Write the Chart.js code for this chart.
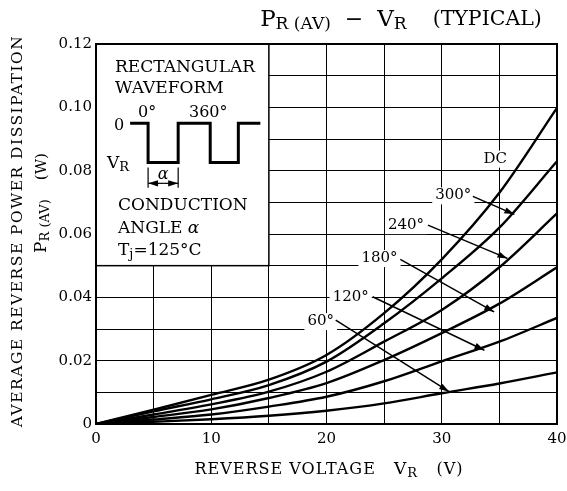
<!DOCTYPE html>
<html><head><meta charset="utf-8">
<script src="https://cdn.jsdelivr.net/npm/chart.js@4/dist/chart.umd.min.js"></script>
<style>html,body{margin:0;padding:0;background:#fff}#wrap{width:567px;height:491px;position:relative}</style>
</head><body><div id="wrap"><canvas id="c"></canvas></div>
<script>
// ---- data ----
const voltages = [0, 5, 10, 15, 20, 25, 30, 35, 40];
const seriesNames = ['DC', '300°', '240°', '180°', '120°', '60°'];
const pDC  = [0, 0.0045, 0.0092, 0.0140, 0.0218, 0.0350, 0.0520, 0.0730, 0.0998];
const p300 = [0, 0.0040, 0.0078, 0.0123, 0.0197, 0.0318, 0.0460, 0.0620, 0.0830];
const p240 = [0, 0.0030, 0.0062, 0.0102, 0.0165, 0.0260, 0.0360, 0.0495, 0.0665];
const p180 = [0, 0.0022, 0.0046, 0.0082, 0.0129, 0.0202, 0.0287, 0.0380, 0.0495];
const p120 = [0, 0.0014, 0.0030, 0.0055, 0.0086, 0.0135, 0.0198, 0.0260, 0.0335];
const p60  = [0, 0.0007, 0.0015, 0.0026, 0.0042, 0.0065, 0.0097, 0.0128, 0.0163];
const xTickLabels = [0, 10, 20, 30, 40];
const yTickLabels = ['0', '0.02', '0.04', '0.06', '0.08', '0.10', '0.12'];

const FONT = '"DejaVu Serif", "Liberation Serif", serif';
const allSeries = [pDC, p300, p240, p180, p120, p60];

// curve label annotations (data units): label center, arrow start, arrow end
const curveLabels = [
  { text: 'DC',   at: [34.65, 0.0838] },
  { text: '300°', at: [31.0, 0.0722], from: [32.7, 0.0719], to: [36.3, 0.0662] },
  { text: '240°', at: [26.9, 0.0628], from: [28.8, 0.0628], to: [35.7, 0.0523] },
  { text: '180°', at: [24.6, 0.0524], from: [26.4, 0.0520], to: [34.55, 0.0354] },
  { text: '120°', at: [22.1, 0.0401], from: [24.0, 0.0402], to: [33.7, 0.0233] },
  { text: '60°',  at: [19.5, 0.0325], from: [20.8, 0.0328], to: [30.64, 0.0102] }
];

function drawParts(ctx, x, y, parts, align) {
  // parts: [text, size, dy]
  let w = 0;
  parts.forEach(p => { ctx.font = p[1] + 'px ' + FONT; w += ctx.measureText(p[0]).width; });
  let cx = align === 'center' ? x - w / 2 : (align === 'right' ? x - w : x);
  ctx.textAlign = 'left';
  parts.forEach(p => {
    ctx.font = p[1] + 'px ' + FONT;
    ctx.fillText(p[0], cx, y + (p[2] || 0));
    cx += ctx.measureText(p[0]).width;
  });
}

function arrow(ctx, x1, y1, x2, y2) {
  ctx.beginPath(); ctx.moveTo(x1, y1); ctx.lineTo(x2, y2); ctx.stroke();
  const a = Math.atan2(y2 - y1, x2 - x1), L = 10, W = 3.2;
  ctx.beginPath();
  ctx.moveTo(x2, y2);
  ctx.lineTo(x2 - L * Math.cos(a) + W * Math.sin(a), y2 - L * Math.sin(a) - W * Math.cos(a));
  ctx.lineTo(x2 - L * Math.cos(a) - W * Math.sin(a), y2 - L * Math.sin(a) + W * Math.cos(a));
  ctx.closePath(); ctx.fill();
}

const decor = {
  id: 'decor',
  beforeDatasetsDraw(chart) {
    const ctx = chart.ctx, xs = chart.scales.x, ys = chart.scales.y;
    const X = v => xs.getPixelForValue(v), Y = v => ys.getPixelForValue(v);
    ctx.save();
    // inset box
    ctx.fillStyle = '#fff';
    ctx.fillRect(X(0), Y(0.12), X(15) - X(0), Y(0.05) - Y(0.12));
    ctx.strokeStyle = '#000'; ctx.lineWidth = 1.5;
    ctx.strokeRect(X(0), Y(0.12), X(15) - X(0), Y(0.05) - Y(0.12));
    ctx.fillStyle = '#000';
    ctx.textBaseline = 'middle';
    drawParts(ctx, X(1.65), Y(0.1126), [['RECTANGULAR', 17]], 'left');
    drawParts(ctx, X(1.65), Y(0.1060), [['WAVEFORM', 17]], 'left');
    drawParts(ctx, X(4.43), Y(0.0982), [['0°', 16]], 'center');
    drawParts(ctx, X(9.74), Y(0.0982), [['360°', 16]], 'center');
    drawParts(ctx, X(2.0), Y(0.0942), [['0', 16]], 'center');
    drawParts(ctx, X(0.95), Y(0.0823), [['V', 17], ['R', 13, 4]], 'left');
    // waveform
    const wx = [2.96, 4.52, 4.52, 7.13, 7.13, 9.91, 9.91, 12.35, 12.35, 14.26];
    const wy = [0.095, 0.095, 0.0826, 0.0826, 0.095, 0.095, 0.0826, 0.0826, 0.095, 0.095];
    ctx.lineWidth = 3; ctx.lineJoin = 'miter';
    ctx.beginPath();
    wx.forEach((v, i) => i ? ctx.lineTo(X(v), Y(wy[i])) : ctx.moveTo(X(v), Y(wy[i])));
    ctx.stroke();
    // alpha dimension
    ctx.lineWidth = 1.2;
    ctx.beginPath();
    ctx.moveTo(X(4.52), Y(0.0810)); ctx.lineTo(X(4.52), Y(0.0746));
    ctx.moveTo(X(7.13), Y(0.0810)); ctx.lineTo(X(7.13), Y(0.0746));
    ctx.stroke();
    const ay = Y(0.0760);
    arrow(ctx, (X(4.52) + X(7.13)) / 2, ay, X(7.13), ay);
    arrow(ctx, (X(4.52) + X(7.13)) / 2, ay, X(4.52), ay);
    ctx.font = 'italic 16px ' + FONT; ctx.textAlign = 'center';
    ctx.fillText('α', X(5.83), Y(0.0787));
    drawParts(ctx, X(1.91), Y(0.0691), [['CONDUCTION', 17]], 'left');
    drawParts(ctx, X(1.91), Y(0.0618), [['ANGLE ', 17]], 'left');
    ctx.font = '17px ' + FONT;
    const aw = ctx.measureText('ANGLE ').width;
    ctx.font = 'italic 17px ' + FONT; ctx.textAlign = 'left';
    ctx.fillText('α', X(1.91) + aw, Y(0.0618));
    drawParts(ctx, X(1.91), Y(0.0549), [['T', 17], ['j', 13, 4], ['=125°C', 17]], 'left');
    ctx.restore();
  },
  afterDatasetsDraw(chart) {
    const ctx = chart.ctx, xs = chart.scales.x, ys = chart.scales.y, ca = chart.chartArea;
    const X = v => xs.getPixelForValue(v), Y = v => ys.getPixelForValue(v);
    ctx.save();
    // frame
    ctx.strokeStyle = '#000'; ctx.lineWidth = 2;
    ctx.strokeRect(ca.left, ca.top, ca.right - ca.left, ca.bottom - ca.top);
    // curve labels
    ctx.textBaseline = 'middle';
    curveLabels.forEach(l => {
      ctx.font = '15px ' + FONT;
      const w = ctx.measureText(l.text).width;
      const cx = X(l.at[0]), cy = Y(l.at[1]);
      ctx.fillStyle = '#fff';
      ctx.fillRect(cx - w / 2 - 3, cy - 8, w + 6, 17);
      ctx.fillStyle = '#000';
      ctx.textAlign = 'center';
      ctx.fillText(l.text, cx, cy);
      if (l.from) {
        ctx.lineWidth = 1.5; ctx.strokeStyle = '#000';
        arrow(ctx, X(l.from[0]), Y(l.from[1]), X(l.to[0]), Y(l.to[1]));
      }
    });
    ctx.restore();
  },
  afterDraw(chart) {
    const ctx = chart.ctx;
    ctx.save();
    ctx.fillStyle = '#000';
    ctx.textBaseline = 'middle';
    // title
    drawParts(ctx, 401, 20, [['P', 23], ['R (AV)', 17, 5], ['  −  ', 22], ['V', 23], ['R', 17, 5], ['    (TYPICAL)', 20.5]], 'center');
    // x axis title
    ctx.letterSpacing = '1px';
    drawParts(ctx, 329, 470, [['REVERSE VOLTAGE   ', 16], ['V', 17], ['R', 13, 4], ['   (V)', 16]], 'center');
    // y axis title
    ctx.translate(18, 231); ctx.rotate(-Math.PI / 2);
    ctx.letterSpacing = '1.5px';
    drawParts(ctx, 0, 0, [['AVERAGE REVERSE POWER DISSIPATION', 15.5]], 'center');
    ctx.letterSpacing = '0px';
    drawParts(ctx, 28, 24, [['P', 17], ['R (AV)', 13, 4], ['    (W)', 15]], 'center');
    ctx.restore();
  }
};

new Chart(document.getElementById('c'), {
  type: 'line',
  data: {
    labels: voltages,
    datasets: allSeries.map((s, i) => ({
      label: seriesNames[i],
      data: s.map((v, j) => ({ x: voltages[j], y: v })),
      borderColor: '#000', borderWidth: 2.4, pointRadius: 0,
      fill: false, cubicInterpolationMode: 'monotone'
    }))
  },
  options: {
    responsive: true, maintainAspectRatio: false, animation: false,
    layout: { padding: { left: 0, right: 10, top: 44, bottom: 0 } },
    plugins: { legend: { display: false }, title: { display: false }, tooltip: { enabled: false } },
    scales: {
      x: {
        type: 'linear', min: 0, max: 40,
        afterFit: s => { s.height = 67; s.paddingRight = 0; s.paddingLeft = 0; },
        ticks: {
          stepSize: 5, padding: 6, color: '#000', font: { family: FONT, size: 15 },
          callback: v => xTickLabels.includes(v) ? String(v) : ''
        },
        grid: { color: '#000', lineWidth: 1, drawTicks: false },
        border: { color: '#000', width: 2 }
      },
      y: {
        min: 0, max: 0.12,
        afterFit: s => { s.width = 96; s.paddingTop = 0; s.paddingBottom = 0; },
        ticks: {
          stepSize: 0.01, padding: 4, color: '#000', font: { family: FONT, size: 15 },
          callback: v => { const k = Math.round(v * 100); return k % 2 === 0 ? yTickLabels[k / 2] : ''; }
        },
        grid: { color: '#000', lineWidth: 1, drawTicks: false },
        border: { color: '#000', width: 2 }
      }
    }
  },
  plugins: [decor]
});
</script>
</body></html>
